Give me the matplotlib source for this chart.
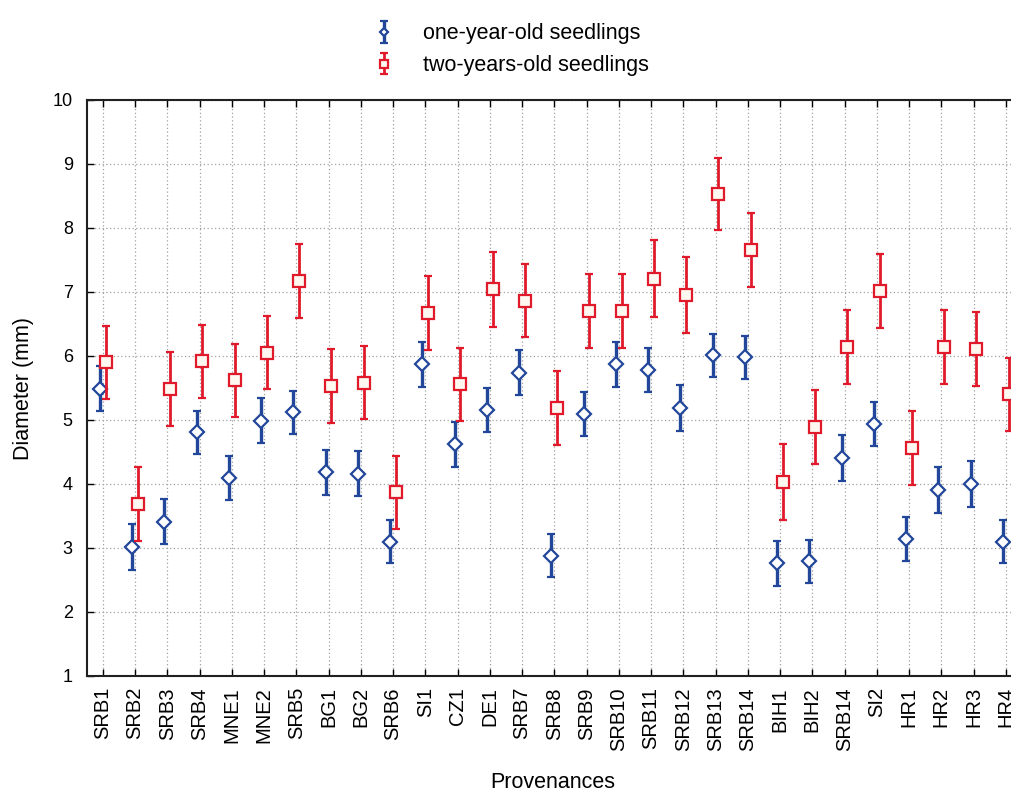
import matplotlib
matplotlib.use("Agg")
import matplotlib.pyplot as plt
import numpy as np

plt.rcParams['font.family'] = ['Liberation Sans', 'DejaVu Sans']

categories = ["SRB1", "SRB2", "SRB3", "SRB4", "MNE1", "MNE2", "SRB5", "BG1", "BG2", "SRB6",
              "SI1", "CZ1", "DE1", "SRB7", "SRB8", "SRB9", "SRB10", "SRB11", "SRB12", "SRB13",
              "SRB14", "BIH1", "BIH2", "SRB14", "SI2", "HR1", "HR2", "HR3", "HR4"]

one_year_mean = [5.49, 3.01, 3.41, 4.81, 4.10, 4.99, 5.12, 4.18, 4.16, 3.10,
                 5.87, 4.62, 5.15, 5.74, 2.88, 5.10, 5.87, 5.78, 5.19, 6.01,
                 5.98, 2.76, 2.79, 4.40, 4.94, 3.14, 3.91, 4.00, 3.10]
one_year_err = [0.35, 0.36, 0.355, 0.335, 0.345, 0.355, 0.34, 0.355, 0.355, 0.335,
                0.355, 0.35, 0.345, 0.355, 0.34, 0.345, 0.35, 0.35, 0.355, 0.34,
                0.34, 0.355, 0.34, 0.36, 0.34, 0.35, 0.36, 0.36, 0.34]

two_year_mean = [5.90, 3.69, 5.49, 5.92, 5.62, 6.05, 7.17, 5.53, 5.58, 3.87,
                 6.67, 5.56, 7.04, 6.86, 5.19, 6.70, 6.70, 7.21, 6.95, 8.53,
                 7.66, 4.03, 4.89, 6.14, 7.01, 4.56, 6.14, 6.11, 5.40]
two_year_err = [0.575, 0.575, 0.58, 0.57, 0.575, 0.57, 0.575, 0.58, 0.57, 0.57,
                0.575, 0.57, 0.585, 0.57, 0.575, 0.575, 0.575, 0.595, 0.59, 0.565,
                0.575, 0.59, 0.575, 0.585, 0.58, 0.575, 0.585, 0.575, 0.575]

yticks = [1, 2, 3, 4, 5, 6, 7, 8, 9, 10]

blue = '#22479a'
red = '#e01a2a'

W, H = 1011, 793
fig = plt.figure(figsize=(W / 100, H / 100), dpi=100)
left_px, top_px, bottom_px = 86.7, 100, 676
xmin, xmax = -0.5, 29.0
step = 32.25
width_px = (xmax - xmin) * step
ax = fig.add_axes([left_px / W, (H - bottom_px) / H, width_px / W, (bottom_px - top_px) / H])

x = np.arange(len(categories))
off = 0.09

h1 = ax.errorbar(x - off, one_year_mean, yerr=one_year_err, fmt='D', color=blue,
                 mfc='white', mec=blue, mew=1.6, ms=7, elinewidth=2.4, capsize=3,
                 capthick=1.5, zorder=3, label='one-year-old seedlings')
h2 = ax.errorbar(x + off, two_year_mean, yerr=two_year_err, fmt='s', color=red,
                 mfc='#fff8f0', mec=red, mew=1.6, ms=9, elinewidth=2.0, capsize=3,
                 capthick=1.5, zorder=4, label='two-years-old seedlings')

ax.set_xlim(xmin, xmax)
ax.set_ylim(1, 10)
ax.set_yticks(yticks)
ax.set_xticks(x)
ax.set_xticklabels(categories, rotation=90, fontsize=14.5)
ax.tick_params(axis='y', labelsize=13, direction='in', length=5, width=1, pad=10)
ax.tick_params(axis='x', direction='in', length=5, width=1, top=True, pad=8)
ax.grid(True, color='#a0a0a0', linestyle=(0, (1, 2)), linewidth=0.9)
ax.set_axisbelow(True)
for s in ['left', 'bottom', 'top']:
    ax.spines[s].set_linewidth(1.5)
    ax.spines[s].set_color('#202020')
ax.spines['right'].set_visible(False)

fig.text(24 / W, 1 - 388 / H, 'Diameter (mm)', rotation=90, ha='center', va='center', fontsize=15.5)
fig.text(553 / W, 1 - 782 / H, 'Provenances', ha='center', va='center', fontsize=15.5)

leg = fig.legend(handles=[h1, h2], loc='upper left', bbox_to_anchor=(352 / W, 1 - 4 / H),
                 frameon=False, fontsize=15.5, labelspacing=0.5, handlelength=1.2,
                 handletextpad=1.2, markerscale=0.6)

fig.savefig('out.png', dpi=100)
